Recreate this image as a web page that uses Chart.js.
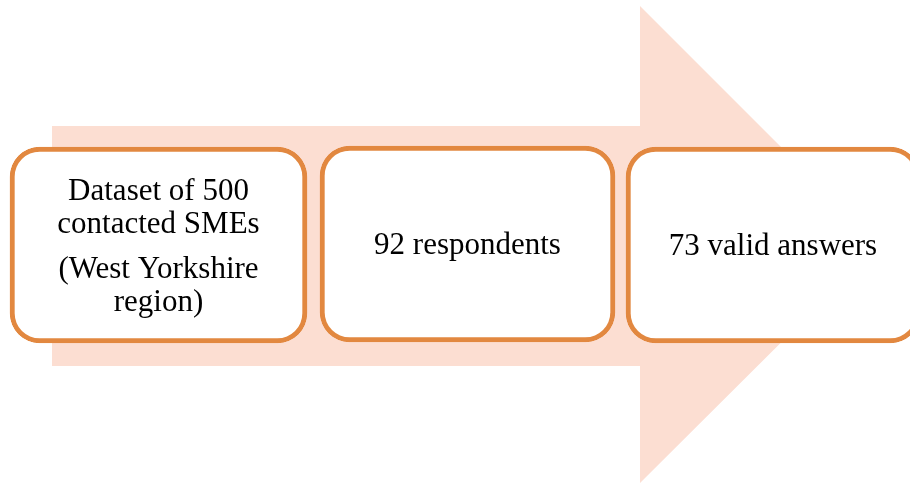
<!DOCTYPE html>
<html>
<head>
<meta charset="utf-8">
<script src="https://cdn.jsdelivr.net/npm/chart.js@4"></script>
<style>
    body { margin: 0; background: #ffffff; }
    #wrap { position: relative; width: 910px; height: 484px; }
</style>
</head>
<body>
<div id="wrap"><canvas id="myChart"></canvas></div>
<script>
// arrow outline (drawing units = pixels of the 910x484 picture)
arrow_x = [52, 640, 640, 879, 640, 640, 52, 52];
arrow_y = [126, 126, 6, 245, 483, 366, 366, 126];

// the three stages
stage_start = [10, 320, 626];
stage_end = [307, 615, 920];
stage_mid = [245, 244, 245];
stage_text = [
    [["Dataset of 500", "contacted SMEs"], ["(West Yorkshire", "region)"]],
    [["92 respondents"]],
    [["73 valid answers"]]
];

orange = 'rgb(226,136,64)';
peach = 'rgb(252,222,210)';

arrow_pts = arrow_x.map((x, i) => ({ x: x, y: arrow_y[i] }));
box_pts = stage_start.map((s, i) => ({ x: [s, stage_end[i]], y: stage_mid[i] }));

// writes the stage text in the middle of each box
var boxText = {
    id: 'boxText',
    afterDatasetsDraw: function (chart) {
        var ctx = chart.ctx;
        var meta = chart.getDatasetMeta(1);
        ctx.save();
        ctx.fillStyle = '#000000';
        ctx.font = '31px "Liberation Serif", "Times New Roman", serif';
        ctx.textAlign = 'center';
        ctx.textBaseline = 'alphabetic';
        var lineH = 33, parGap = 12;
        meta.data.forEach(function (bar, i) {
            var cx = (bar.x + bar.base) / 2;
            var paras = stage_text[i];
            var offs = [];
            var o = 0;
            paras.forEach(function (p, pi) {
                if (pi > 0) o += parGap;
                p.forEach(function (l, li) {
                    if (pi > 0 || li > 0) o += lineH;
                    offs.push(o);
                });
            });
            var first = bar.y - o / 2 + 10;
            var k = 0;
            paras.forEach(function (p) {
                p.forEach(function (l) {
                    ctx.fillText(l, cx, first + offs[k]);
                    k++;
                });
            });
        });
        ctx.restore();
    }
};

var canvas = document.getElementById('myChart');
var myChart = new Chart(canvas, {
    type: 'bar',
    data: {
        datasets: [{
            type: 'line',
            data: arrow_pts,
            backgroundColor: peach,
            borderWidth: 0,
            pointRadius: 0,
            fill: 'shape',
            tension: 0,
            clip: false,
            order: 2
        }, {
            type: 'bar',
            indexAxis: 'y',
            data: box_pts,
            backgroundColor: '#ffffff',
            borderColor: orange,
            borderWidth: 5,
            borderRadius: 30,
            borderSkipped: false,
            barThickness: 196,
            clip: false,
            order: 1
        }]
    },
    options: {
        responsive: true,
        maintainAspectRatio: false,
        animation: false,
        layout: { padding: 0 },
        plugins: {
            legend: { display: false },
            tooltip: { enabled: false }
        },
        scales: {
            x: { type: 'linear', min: 0, max: 910, offset: false, grace: 0, display: false },
            y: { type: 'linear', min: 0, max: 484, offset: false, grace: 0, reverse: true, display: false }
        }
    },
    plugins: [boxText]
});
</script>
</body>
</html>
